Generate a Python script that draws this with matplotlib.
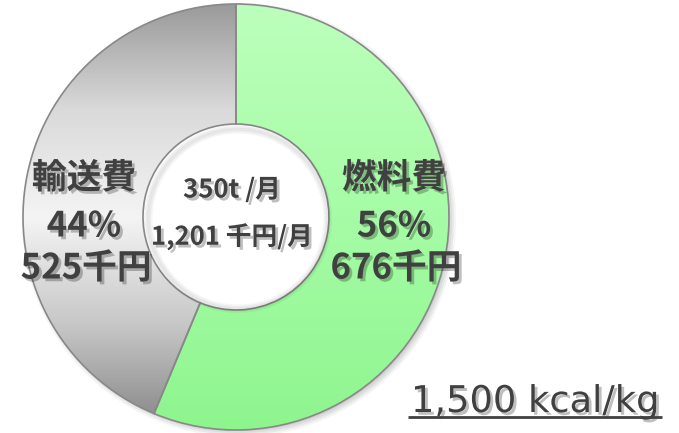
import matplotlib
matplotlib.use('Agg')
import matplotlib.pyplot as plt
import matplotlib.patheffects as pe
from matplotlib.colors import LinearSegmentedColormap
import numpy as np

plt.rcParams['font.family'] = ['Noto Sans CJK JP', 'DejaVu Sans']

# data
labels = ['燃料費', '輸送費']
costs = [676, 525]          # 千円
shares = [56, 44]           # %
tonnage = 350               # t/月
total_cost = 1201           # 千円/月
calorific = 1500            # kcal/kg

W, H = 679, 433
fig = plt.figure(figsize=(W / 100, H / 100), dpi=100)
ax = fig.add_axes([0, 0, 1, 1])
ax.set_xlim(0, W)
ax.set_ylim(0, H)
ax.set_aspect('equal')
ax.axis('off')

cx, cy = 236, H - 217
R = 213
hole = 93

# soft shadow behind the ring
for i, a in enumerate([0.04, 0.05, 0.05, 0.06]):
    sh = plt.Circle((cx + 3, cy - 3), R + 4 - i * 2, color='black', alpha=a, lw=0, zorder=0)
    ax.add_patch(sh)

wedges, _ = ax.pie(costs, startangle=90, counterclock=False, radius=R, center=(cx, cy),
                   colors=['#a8fca8', '#cccccc'],
                   wedgeprops=dict(width=R - hole, edgecolor='#888888', linewidth=1.2))
ax.set_xlim(0, W)
ax.set_ylim(0, H)

# white hole on top of the shadow
ax.add_patch(plt.Circle((cx, cy), hole, fc='white', ec='none', zorder=0.5))

# gradient fills clipped to the wedges
cmaps = [LinearSegmentedColormap.from_list('g', ['#8ef58e', '#a6fca6', '#bcffbc']),
         LinearSegmentedColormap.from_list('k', ['#858585', '#c8c8c8', '#f4f4f4', '#dadada', '#9a9a9a'])]
grad = np.linspace(0, 1, 256).reshape(-1, 1)
for w, cm in zip(wedges, cmaps):
    im = ax.imshow(grad, cmap=cm, origin='lower', aspect='auto',
                   extent=(cx - R, cx + R, cy - R, cy + R), zorder=1)
    im.set_clip_path(w)
    w.set_zorder(2)
    w.set_facecolor('none')

# inner hole shadow
for i in range(4):
    ax.add_patch(plt.Circle((cx + 2, cy - 2), hole - 1 - i * 1.5, fc='none', ec='black',
                            alpha=0.035, lw=3, zorder=2))

shadow = [pe.withSimplePatchShadow(offset=(2, -2), shadow_rgbFace='black', alpha=0.25)]
tc = '#404040'

label_pos = [(394, 178), (84, 178)]
for lab, c, s, (x, y) in zip(labels, costs, shares, label_pos):
    ax.text(x, H - y, lab, ha='center', va='center', fontsize=25, fontweight='bold',
            color=tc, path_effects=shadow, zorder=5)
    ax.text(x, H - (y + 48), f'{s}%', ha='center', va='center', fontsize=25,
            fontweight='bold', color=tc, path_effects=shadow, zorder=5)
    ax.text(x + 2, H - (y + 90), f'{c}千円', ha='center', va='center', fontsize=25,
            fontweight='bold', color=tc, path_effects=shadow, zorder=5)

ax.text(232, H - 190, f'{tonnage}t /月', ha='center', va='center', fontsize=18.5,
        fontweight='bold', color=tc, path_effects=shadow, zorder=5)
ax.text(232, H - 237, f'{total_cost:,} 千円/月', ha='center', va='center', fontsize=18.5,
        fontweight='bold', color=tc, path_effects=shadow, zorder=5)

ax.text(535, H - 412, f'{calorific:,} kcal/kg', ha='center', va='baseline', fontsize=26.5,
        family='DejaVu Sans', color=tc, path_effects=shadow, zorder=5)
ax.plot([408, 662], [H - 417, H - 417], color=tc, lw=2, solid_capstyle='butt',
        path_effects=shadow, zorder=5)

fig.savefig('out.png', dpi=100)
